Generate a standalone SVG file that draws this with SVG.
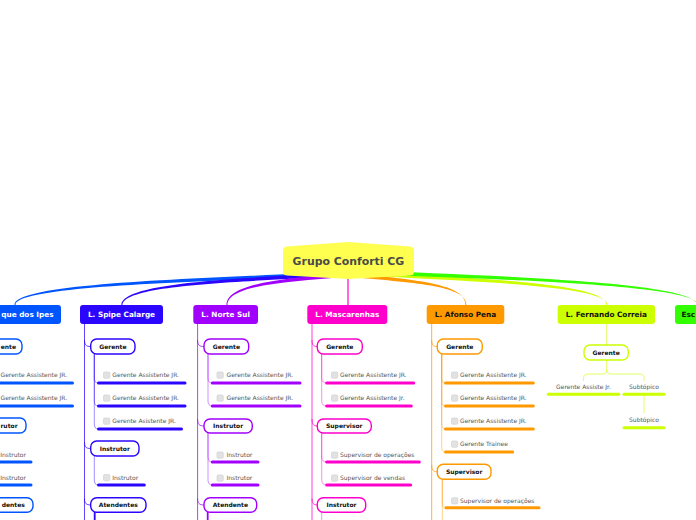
<svg xmlns="http://www.w3.org/2000/svg" width="696" height="520" viewBox="0 0 696 520">
<style>
.bg{fill:#ffffff}
.nt{font-family:"DejaVu Sans",Verdana,sans-serif;font-weight:bold;font-size:7.3px;text-anchor:middle}
.bt{font-family:"DejaVu Sans",Verdana,sans-serif;font-weight:bold;font-size:6px;text-anchor:middle;fill:#111}
.lt{font-family:"DejaVu Sans",Verdana,sans-serif;font-size:6px;fill:#555}
.lc{font-family:"DejaVu Sans",Verdana,sans-serif;font-size:6px;fill:#555;text-anchor:middle}
.cb{fill:#e2e2e2;stroke:#cfcfcf;stroke-width:0.6}
.box{fill:#fff;stroke-width:1.4}
.ul{stroke-width:3;stroke-linecap:round;fill:none}
.ml{fill:none;stroke-width:1;opacity:0.75}
.sl{fill:none;stroke-width:1;opacity:0.45}
.c1{stroke:#0055ff}.f1{fill:#0055ff}
.c2{stroke:#2b06ff}.f2{fill:#2b06ff}
.c3{stroke:#a100ff}.f3{fill:#a100ff}
.c4{stroke:#ff00cc}.f4{fill:#ff00cc}
.c5{stroke:#ff9900}.f5{fill:#ff9900}
.c6{stroke:#ccff00}.f6{fill:#ccff00}
.c7{stroke:#33ff00}.f7{fill:#33ff00}
</style>
<rect class="bg" x="0" y="0" width="696" height="520"/>
<g id="connectors">
  <path class="f1" d="M345,271 C230,278.5 14.5,281 14.5,305 L15.5,305 C15.5,284 230,281.5 345,275 Z"/>
  <path class="f2" d="M345,272 C250,278.5 121.5,281 121.5,305 L122.5,305 C122.5,284 250,281.5 345,276 Z"/>
  <path class="f3" d="M345,273 C290,278.5 226.5,282 226.5,305 L227.5,305 C227.5,285 290,281.5 345,277 Z"/>
  <path class="c4" d="M348,276 L348,305" stroke-width="1.2" fill="none"/>
  <path class="f5" d="M352,273 C420,280.5 465.5,284 465.5,305 L466.5,305 C466.5,286 420,283.5 352,277 Z"/>
  <path class="f6" d="M352,271 C480,278.5 606.5,283 606.5,305 L607.5,305 C607.5,286 480,281.5 352,275 Z"/>
  <path class="f7" d="M352,270 C520,276.5 697,283 697,305 L698,305 C698,286 520,279.5 352,274 Z"/>

  <!-- col1 -->
  <path class="ml c1" d="M-28,324 V520"/>
  <path class="ml c1" d="M-28,340 C-28,345 -26.5,346.5 -22.3,346.5"/>
  <path class="ml c1" d="M-28,419 C-28,424 -26.5,425.5 -22.3,425.5"/>
  <path class="ml c1" d="M-28,498.5 C-28,503 -26.5,505 -22.3,505"/>
  <path class="sl c1" d="M-18.5,354 V378 Q-18.5,383 -14.5,383"/>
  <path class="sl c1" d="M-18.5,354 V401 Q-18.5,406 -14.5,406"/>
  <path class="sl c1" d="M-18.5,433 V457 Q-18.5,462 -14.5,462"/>
  <path class="sl c1" d="M-18.5,433 V480 Q-18.5,485 -14.5,485"/>

  <!-- col2 -->
  <path class="ml c2" d="M84.5,324 V520"/>
  <path class="ml c2" d="M84.5,340 C84.5,345 86,346.5 90.7,346.5"/>
  <path class="ml c2" d="M84.5,442 C84.5,447 86,448.5 90.7,448.5"/>
  <path class="ml c2" d="M84.5,498.5 C84.5,503 86,505 90.7,505"/>
  <path class="sl c2" d="M94.3,354 V378 Q94.3,383 98.5,383"/>
  <path class="sl c2" d="M94.3,354 V401 Q94.3,406 98.5,406"/>
  <path class="sl c2" d="M94.3,354 V424 Q94.3,429 98.5,429"/>
  <path class="sl c2" d="M94.3,456 V480 Q94.3,485 98.5,485"/>
  <path class="c2" d="M94.7,512 V520" stroke-width="1.8" fill="none"/>

  <!-- col3 -->
  <path class="ml c3" d="M197.6,324 V520"/>
  <path class="ml c3" d="M197.6,340 C197.6,345 199,346.5 204,346.5"/>
  <path class="ml c3" d="M197.6,419 C197.6,424 199,426 204,426"/>
  <path class="ml c3" d="M197.6,498.5 C197.6,503 199,505 204,505"/>
  <path class="sl c3" d="M208,354 V378 Q208,383 212.3,383"/>
  <path class="sl c3" d="M208,354 V401 Q208,406 212.3,406"/>
  <path class="sl c3" d="M208,433 V457 Q208,462 212.3,462"/>
  <path class="sl c3" d="M208,433 V480 Q208,485 212.3,485"/>
  <path class="c3" d="M207.7,512 V520" stroke-width="1.8" fill="none"/>

  <!-- col4 -->
  <path class="ml c4" d="M312,324 V520"/>
  <path class="ml c4" d="M312,340 C312,345 313.5,346.5 317.3,346.5"/>
  <path class="ml c4" d="M312,419 C312,424 313.5,426 317.3,426"/>
  <path class="ml c4" d="M312,498.5 C312,503 313.5,505 317.3,505"/>
  <path class="sl c4" d="M321.7,354 V378 Q321.7,383 326.7,383"/>
  <path class="sl c4" d="M321.7,354 V401 Q321.7,406 326.7,406"/>
  <path class="sl c4" d="M321.7,433 V457 Q321.7,462 326.7,462"/>
  <path class="sl c4" d="M321.7,433 V480 Q321.7,485 326.7,485"/>
  <path class="sl c4" d="M321.7,512 V520"/>

  <!-- col5 -->
  <path class="ml c5" d="M431.7,324 V520"/>
  <path class="ml c5" d="M431.7,340 C431.7,345 433,346.5 437.3,346.5"/>
  <path class="ml c5" d="M431.7,465 C431.7,470 433,471.8 437.3,471.8"/>
  <path class="sl c5" d="M441.7,354 V378 Q441.7,383 445.5,383"/>
  <path class="sl c5" d="M441.7,354 V401 Q441.7,406 445.5,406"/>
  <path class="sl c5" d="M441.7,354 V424 Q441.7,429 445.5,429"/>
  <path class="sl c5" d="M441.7,354 V447 Q441.7,452 445.5,452"/>
  <path class="sl c5" d="M442.3,479.3 V503 Q442.3,507.7 446,507.7"/>
  <path class="sl c5" d="M442.3,479.3 V520"/>

  <!-- col6 -->
  <path class="sl c6" d="M606.7,324 V345" style="opacity:0.6"/>
  <path class="sl c6" d="M606.7,360 V370 Q606.7,374 602,374 H588 Q583.5,374 583.5,378.5 V381" style="opacity:0.6"/>
  <path class="sl c6" d="M606.7,370 Q606.7,374 611,374 H640 Q644,374 644,378.5 V381" style="opacity:0.6"/>
  <path class="sl c6" d="M644,396 V413" style="opacity:0.6"/>
</g>

<g id="root">
  <path d="M287,246.5 L348,242 L410,246.5 Q414,247 414,250.5 L414,272 Q414,275 410,275.5 L348,279 L287,275.5 Q283,275 283,272 L283,250.5 Q283,247 287,246.5 Z" fill="#ffff4f"/>
  <text x="348.4" y="265" style="font-family:'DejaVu Sans',Verdana,sans-serif;font-weight:bold;font-size:10.9px;text-anchor:middle;fill:#4a4a4a">Grupo Conforti CG</text>
</g>

<g id="col1">
  <rect class="f1" x="-31" y="305" width="92" height="19" rx="3"/>
  <text class="nt" x="53.5" y="317.1" fill="#fff" style="text-anchor:end">que dos Ipes</text>
  <rect class="box c1" x="-22.3" y="339" width="44.3" height="15" rx="6"/>
  <text class="bt" x="16" y="348.7" style="text-anchor:end">ente</text>
  <rect class="cb" x="-9" y="372" width="6.3" height="6.3" rx="1.2"/>
  <text class="lt" x="0.5" y="377.2">Gerente Assistente JR.</text>
  <path class="ul c1" d="M-14.5,383 H72.5"/>
  <rect class="cb" x="-9" y="395" width="6.3" height="6.3" rx="1.2"/>
  <text class="lt" x="0.5" y="400.2">Gerente Assistente JR.</text>
  <path class="ul c1" d="M-14.5,406 H72.5"/>
  <rect class="box c1" x="-22.3" y="418" width="48.3" height="15" rx="6"/>
  <text class="bt" x="17.6" y="427.7" style="text-anchor:end">rutor</text>
  <rect class="cb" x="-9" y="452" width="6.3" height="6.3" rx="1.2"/>
  <text class="lt" x="0.2" y="457.2">Instrutor</text>
  <path class="ul c1" d="M-14.5,462 H31"/>
  <rect class="cb" x="-9" y="475" width="6.3" height="6.3" rx="1.2"/>
  <text class="lt" x="0.2" y="480.2">Instrutor</text>
  <path class="ul c1" d="M-14.5,485 H31"/>
  <rect class="box c1" x="-22.3" y="497.7" width="55.3" height="14.5" rx="6"/>
  <text class="bt" x="24.8" y="507.2" style="text-anchor:end">dentes</text>
</g>

<g id="col2">
  <rect class="f2" x="80" y="305" width="83" height="19" rx="3"/>
  <text class="nt" x="121.5" y="317.1" fill="#fff">L. Spipe Calarge</text>
  <rect class="box c2" x="90.7" y="339" width="44.3" height="15" rx="6"/>
  <text class="bt" x="112.85" y="348.7">Gerente</text>
  <rect class="cb" x="103.5" y="372" width="6.3" height="6.3" rx="1.2"/>
  <text class="lt" x="112.3" y="377.2">Gerente Assistente JR.</text>
  <path class="ul c2" d="M98.5,383 H185"/>
  <rect class="cb" x="103.5" y="395" width="6.3" height="6.3" rx="1.2"/>
  <text class="lt" x="112.3" y="400.2">Gerente Assistente JR.</text>
  <path class="ul c2" d="M98.5,406 H185"/>
  <rect class="cb" x="103.5" y="418" width="6.3" height="6.3" rx="1.2"/>
  <text class="lt" x="112.3" y="423.2">Gerente Asistente JR.</text>
  <path class="ul c2" d="M98.5,429 H181.5"/>
  <rect class="box c2" x="90.7" y="441" width="48.3" height="15" rx="6"/>
  <text class="bt" x="114.85" y="450.7">Instrutor</text>
  <rect class="cb" x="103.5" y="474.5" width="6.3" height="6.3" rx="1.2"/>
  <text class="lt" x="112.3" y="479.9">Instrutor</text>
  <path class="ul c2" d="M98.5,485 H144.3"/>
  <rect class="box c2" x="90.7" y="497.7" width="55.3" height="14.5" rx="6"/>
  <text class="bt" x="118.35" y="507.2">Atendentes</text>
</g>

<g id="col3">
  <rect class="f3" x="193.3" y="305" width="64.7" height="19" rx="3"/>
  <text class="nt" x="225.65" y="317.1" fill="#fff">L. Norte Sul</text>
  <rect class="box c3" x="204" y="339" width="44.7" height="15" rx="6"/>
  <text class="bt" x="226.35" y="348.7">Gerente</text>
  <rect class="cb" x="217" y="372" width="6.3" height="6.3" rx="1.2"/>
  <text class="lt" x="226.5" y="377.2">Gerente Assistente JR.</text>
  <path class="ul c3" d="M212.3,383 H300"/>
  <rect class="cb" x="217" y="395" width="6.3" height="6.3" rx="1.2"/>
  <text class="lt" x="226.5" y="400.2">Gerente Assistente JR.</text>
  <path class="ul c3" d="M212.3,406 H300"/>
  <rect class="box c3" x="204" y="419" width="48.3" height="14" rx="6"/>
  <text class="bt" x="228.15" y="428.2">Instrutor</text>
  <rect class="cb" x="217" y="452" width="6.3" height="6.3" rx="1.2"/>
  <text class="lt" x="226.5" y="457.2">Instrutor</text>
  <path class="ul c3" d="M212.3,462 H258"/>
  <rect class="cb" x="217" y="475" width="6.3" height="6.3" rx="1.2"/>
  <text class="lt" x="226.5" y="480.2">Instrutor</text>
  <path class="ul c3" d="M212.3,485 H258"/>
  <rect class="box c3" x="204" y="497.7" width="52.7" height="14.5" rx="6"/>
  <text class="bt" x="230.35" y="507.2">Atendente</text>
</g>

<g id="col4">
  <rect class="f4" x="307.3" y="305" width="80" height="19" rx="3"/>
  <text class="nt" x="347.3" y="317.1" fill="#fff">L. Mascarenhas</text>
  <rect class="box c4" x="317.3" y="339" width="45" height="15" rx="6"/>
  <text class="bt" x="339.8" y="348.7">Gerente</text>
  <rect class="cb" x="331.5" y="372" width="6.3" height="6.3" rx="1.2"/>
  <text class="lt" x="340" y="377.2">Gerente Assistente JR.</text>
  <path class="ul c4" d="M326.7,383 H413.7"/>
  <rect class="cb" x="331.5" y="395" width="6.3" height="6.3" rx="1.2"/>
  <text class="lt" x="340" y="400.2">Gerente Assistente Jr.</text>
  <path class="ul c4" d="M326.7,406 H411.3"/>
  <rect class="box c4" x="317.3" y="419" width="54" height="14" rx="6"/>
  <text class="bt" x="344.3" y="428.2">Supervisor</text>
  <rect class="cb" x="331.5" y="452" width="6.3" height="6.3" rx="1.2"/>
  <text class="lt" x="340" y="457.2">Supervisor de operações</text>
  <path class="ul c4" d="M326.7,462 H419.3"/>
  <rect class="cb" x="331.5" y="475" width="6.3" height="6.3" rx="1.2"/>
  <text class="lt" x="340" y="480.2">Supervisor de vendas</text>
  <path class="ul c4" d="M326.7,485 H410.7"/>
  <rect class="box c4" x="317.3" y="497.7" width="48.4" height="14.5" rx="6"/>
  <text class="bt" x="341.5" y="507.2">Instrutor</text>
</g>

<g id="col5">
  <rect class="f5" x="426.7" y="305" width="77.6" height="19" rx="3"/>
  <text class="nt" x="465.5" y="317.1" fill="#111">L. Afonso Pena</text>
  <rect class="box c5" x="437.3" y="339" width="45" height="15" rx="6"/>
  <text class="bt" x="459.8" y="348.7">Gerente</text>
  <rect class="cb" x="451.5" y="372" width="6.3" height="6.3" rx="1.2"/>
  <text class="lt" x="460" y="377.2">Gerente Assistente JR.</text>
  <path class="ul c5" d="M445.5,383 H533.3"/>
  <rect class="cb" x="451.5" y="395" width="6.3" height="6.3" rx="1.2"/>
  <text class="lt" x="460" y="400.2">Gerente Assistente JR.</text>
  <path class="ul c5" d="M445.5,406 H533.3"/>
  <rect class="cb" x="451.5" y="418" width="6.3" height="6.3" rx="1.2"/>
  <text class="lt" x="460" y="423.2">Gerente Assistente JR.</text>
  <path class="ul c5" d="M445.5,429 H533.3"/>
  <rect class="cb" x="451.5" y="441" width="6.3" height="6.3" rx="1.2"/>
  <text class="lt" x="460" y="446.2">Gerente Trainee</text>
  <path class="ul c5" d="M445.5,452 H512.7"/>
  <rect class="box c5" x="437.3" y="464.3" width="53.7" height="15" rx="6"/>
  <text class="bt" x="464.15" y="474">Supervisor</text>
  <rect class="cb" x="451.5" y="497.7" width="6.3" height="6.3" rx="1.2"/>
  <text class="lt" x="460" y="502.9">Supervisor de operações</text>
  <path class="ul c5" d="M446,507.7 H539"/>
</g>

<g id="col6">
  <rect class="f6" x="557.7" y="305" width="97.3" height="19" rx="3"/>
  <text class="nt" x="606.35" y="317.1" fill="#111">L. Fernando Correia</text>
  <rect class="box c6" x="584" y="345" width="44.3" height="15" rx="6"/>
  <text class="bt" x="606.15" y="354.7">Gerente</text>
  <text class="lc" x="583.5" y="388.9">Gerente Assiste Jr.</text>
  <path class="ul c6" d="M548.3,394.3 H618.7"/>
  <text class="lc" x="644" y="388.9">Subtópico</text>
  <path class="ul c6" d="M624,394.3 H664"/>
  <text class="lc" x="644" y="422.2">Subtópico</text>
  <path class="ul c6" d="M624,427.7 H664"/>
</g>

<g id="col7">
  <rect class="f7" x="675" y="305" width="40" height="19" rx="3"/>
  <text class="nt" x="681.5" y="317.1" fill="#111" style="text-anchor:start">Esc</text>
</g>
</svg>
